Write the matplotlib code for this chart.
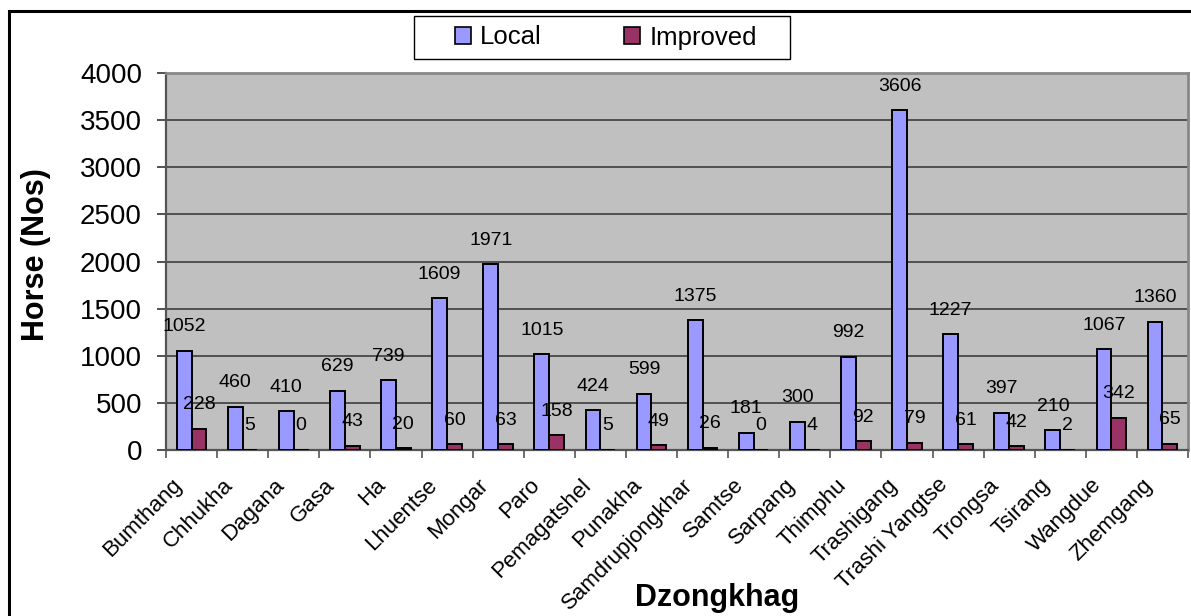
#!/usr/bin/env python3
"""
Horse population by Dzongkhag: local vs improved breeds.
"""

import matplotlib

matplotlib.use("Agg")

import matplotlib.pyplot as plt
import matplotlib.transforms as mtransforms
import numpy as np
from matplotlib.patches import Patch, Rectangle

DZONGKHAGS = [
    "Bumthang", "Chhukha", "Dagana", "Gasa", "Ha", "Lhuentse", "Mongar", "Paro",
    "Pemagatshel", "Punakha", "Samdrupjongkhar", "Samtse", "Sarpang", "Thimphu",
    "Trashigang", "Trashi Yangtse", "Trongsa", "Tsirang", "Wangdue", "Zhemgang",
]
LOCAL = [1052, 460, 410, 629, 739, 1609, 1971, 1015, 424, 599, 1375, 181, 300, 992,
         3606, 1227, 397, 210, 1067, 1360]
IMPROVED = [228, 5, 0, 43, 20, 60, 63, 158, 5, 49, 26, 0, 4, 92, 79, 61, 42, 2, 342, 65]
Y_TICKS = [0, 500, 1000, 1500, 2000, 2500, 3000, 3500, 4000]

LOCAL_COLOR = "#9999FF"
IMPROVED_COLOR = "#993366"
FONT = "Liberation Sans"
W, H = 1191.0, 616.0


def px(v: float) -> float:
    # pixels -> points at dpi 100
    return v * 72.0 / 100.0


def main() -> None:
    plt.rcParams["font.family"] = [FONT, "DejaVu Sans"]
    fig = plt.figure(figsize=(W / 100, H / 100), dpi=100)

    # outer chart border (cropped on right and bottom in the original)
    fig.patches.append(
        Rectangle((9 / W, -0.2), 1.2, 1.2 - 11 / H, transform=fig.transFigure,
                  fill=False, edgecolor="black", linewidth=2.2)
    )

    ax = fig.add_axes([166 / W, 1 - 450 / H, (1188 - 166) / W, (450 - 73) / H])
    ax.set_facecolor("#C0C0C0")

    x = np.arange(len(DZONGKHAGS))
    bw = 0.29
    ax.bar(x - bw / 2, LOCAL, bw, color=LOCAL_COLOR, edgecolor="black", linewidth=1.4,
           zorder=3)
    ax.bar(x + bw / 2, IMPROVED, bw, color=IMPROVED_COLOR, edgecolor="black", linewidth=1.4,
           zorder=3)

    for xi, v in zip(x, LOCAL):
        ax.annotate(str(v), (xi - bw / 2, v), xytext=(0, px(24)), textcoords="offset points",
                    ha="center", va="center", fontsize=14, zorder=4, annotation_clip=False)
    for xi, v in zip(x, IMPROVED):
        ax.annotate(str(v), (xi + bw / 2, v), xytext=(0, px(24)), textcoords="offset points",
                    ha="center", va="center", fontsize=14, zorder=4, annotation_clip=False)

    ax.set_xlim(-0.5, len(DZONGKHAGS) - 0.5)
    ax.set_ylim(0, 4000)
    ax.set_yticks(Y_TICKS)
    ax.set_yticklabels([str(t) for t in Y_TICKS], fontsize=20)
    ax.yaxis.grid(True, color="#333333", linewidth=1.1, zorder=1)
    ax.set_axisbelow(True)

    ax.set_xticks(x)
    ax.set_xticklabels(DZONGKHAGS, rotation=45, ha="right", va="center",
                       rotation_mode="anchor", fontsize=16)
    ax.tick_params(axis="x", length=0, pad=0)
    shift = mtransforms.ScaledTranslation(-13 / 100, -32 / 100, fig.dpi_scale_trans)
    for lbl in ax.get_xticklabels():
        lbl.set_transform(lbl.get_transform() + shift)
    ax.set_xticks(np.arange(-0.5, len(DZONGKHAGS) + 0.5, 1.0), minor=True)
    ax.tick_params(axis="x", which="minor", length=px(8), width=1.2, color="#555555")
    ax.tick_params(axis="y", length=px(9), width=1.2, color="#333333", pad=px(15))

    for side in ["top", "right"]:
        ax.spines[side].set_color("#888888")
        ax.spines[side].set_linewidth(2)
    for side in ["left", "bottom"]:
        ax.spines[side].set_color("#555555")
        ax.spines[side].set_linewidth(1.6)

    fig.text(36 / W, 1 - 255 / H, "Horse (Nos)", rotation=90, ha="center", va="center",
             fontsize=22, fontweight="bold")
    fig.text(717 / W, 1 - 598 / H, "Dzongkhag", ha="center", va="center",
             fontsize=22, fontweight="bold")

    # legend: frameless content plus a drawn box
    fig.patches.append(
        Rectangle((414 / W, 1 - 59 / H), (790 - 414) / W, (59 - 16) / H,
                  transform=fig.transFigure, facecolor="white", edgecolor="black",
                  linewidth=1.0, zorder=1)
    )
    handles = [
        Patch(facecolor=LOCAL_COLOR, edgecolor="black", linewidth=1.2, label="Local"),
        Patch(facecolor=IMPROVED_COLOR, edgecolor="black", linewidth=1.2, label="Improved"),
    ]
    fig.legend(handles=handles, loc="center", bbox_to_anchor=(606 / W, 1 - 37.5 / H),
               ncol=2, fontsize=18.5, frameon=False, handlelength=0.62, handleheight=0.62,
               columnspacing=3.2, handletextpad=0.35, borderpad=0.2)

    fig.savefig("out.png", dpi=100)
    plt.close(fig)


if __name__ == "__main__":
    main()
